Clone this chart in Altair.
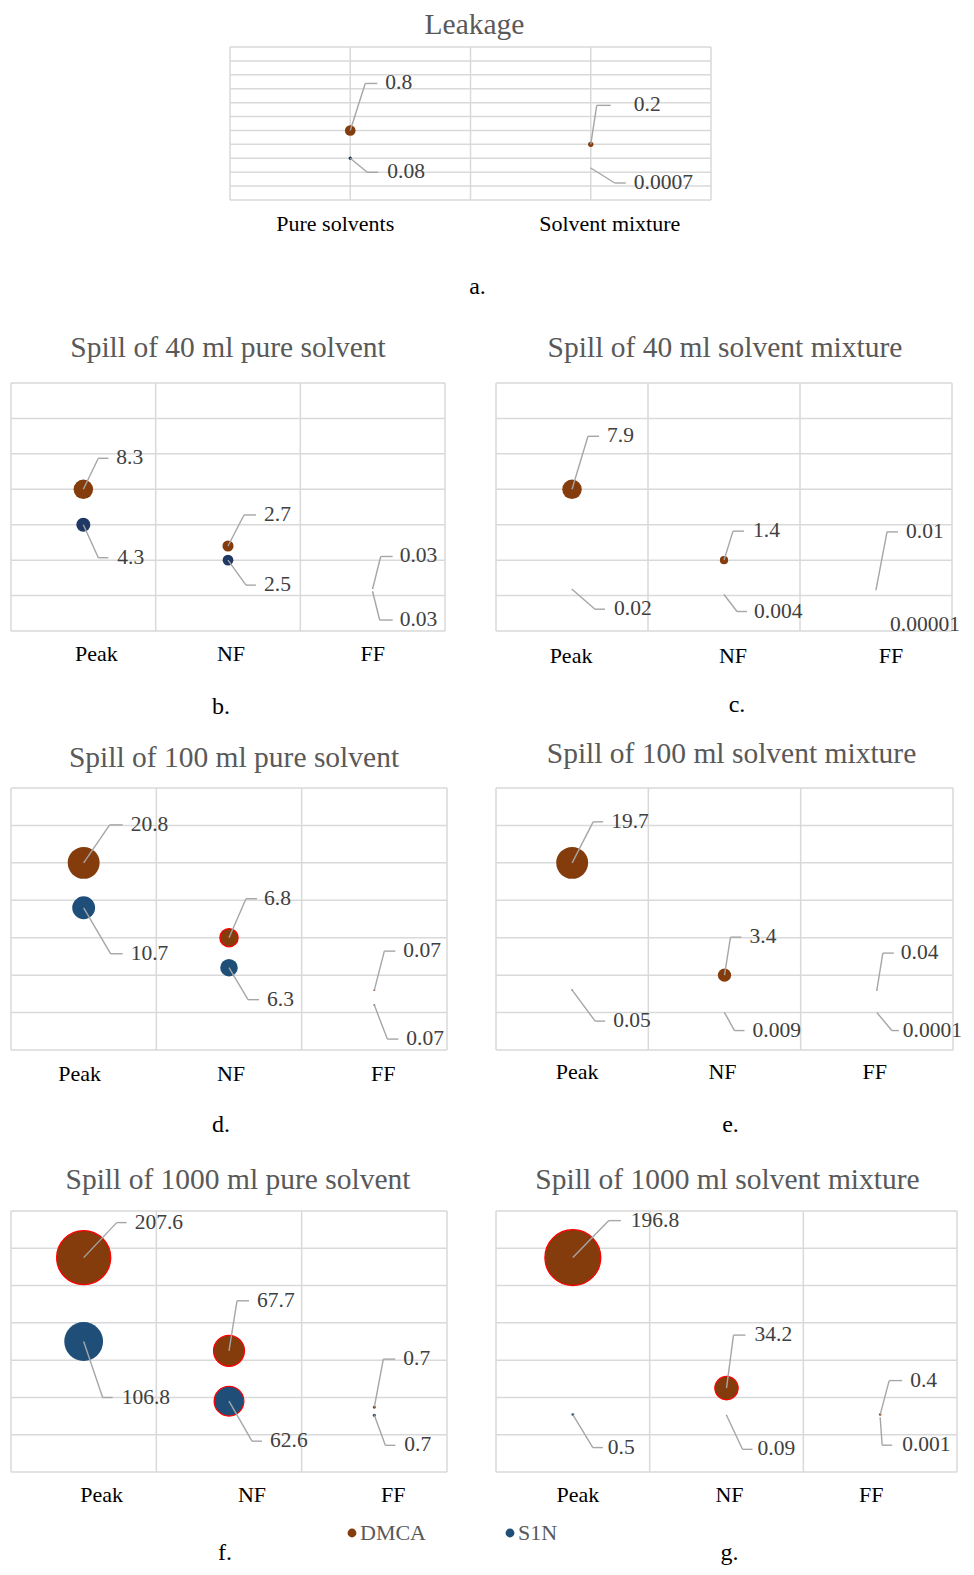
import math
import numpy as np
import pandas as pd
import altair as alt

FONT = "Liberation Serif"
SERIES = ["DMCA", "S1N"]
BROWN = "#843C0C"
BLUE = "#1F4E79"
NAVY = "#203864"

# ---------------- data ----------------
LEAK_CATS = ["Pure solvents", "Solvent mixture"]
LEAK_X = [1, 3]
LEAK_DMCA = [0.8, 0.2]
LEAK_S1N = [0.08, 0.0007]
LEAK_DMCA_Y = [5, 4]
LEAK_S1N_Y = [3, 2.3]

ZONES = ["Peak", "NF", "FF"]
ZONE_X = [0.5, 1.5, 2.5]

B_DMCA = [8.3, 2.7, 0.03]
B_S1N = [4.3, 2.5, 0.03]
B_DMCA_Y = [4, 2.4, 1.2]
B_S1N_Y = [3, 2.0, 1.1]

C_DMCA = [7.9, 1.4, 0.01]
C_S1N = [0.02, 0.004, 0.00001]
C_DMCA_Y = [4, 2, 1.16]
C_S1N_Y = [1.18, 1.03, 1.0]

D_DMCA = [20.8, 6.8, 0.07]
D_S1N = [10.7, 6.3, 0.07]
D_DMCA_Y = [5, 3, 1.6]
D_S1N_Y = [3.8, 2.2, 1.2]

E_DMCA = [19.7, 3.4, 0.04]
E_S1N = [0.05, 0.009, 0.0001]
E_DMCA_Y = [5, 2, 1.6]
E_S1N_Y = [1.6, 1.0, 1.0]

F_DMCA = [207.6, 67.7, 0.7]
F_S1N = [106.8, 62.6, 0.7]
F_DMCA_Y = [5.75, 3.25, 1.74]
F_S1N_Y = [3.5, 1.9, 1.52]

G_DMCA = [196.8, 34.2, 0.4]
G_S1N = [0.5, 0.09, 0.001]
G_DMCA_Y = [5.75, 2.25, 1.54]
G_S1N_Y = [1.54, 1.52, 1.47]

# ---------------- layout / style (pixel offsets) ----------------
T = True
LAYOUT = {
    "a": dict(vw=436, x0=219, w=481, h=153, xmax=4, ymax=11, maxd=12, blue=NAVY, tgap=22, lpad=24, capy=87,
              tdx=4, cdx=7, ldx=[-15, 19], outline=[],
              lab={"DMCA": [(15, -47, 27, 35, T), (6, -39, 20, 43, T)],
                   "S1N": [(17, 14, 28, 37, T), (24, 15, 35, 43, T)]}),
    "b": dict(w=434, h=248, xmax=3, ymax=7, maxd=22, blue=NAVY, tgap=35, lpad=23, capy=76,
              tdx=0, cdx=-7, ldx=[13, 3, 0], outline=[],
              lab={"DMCA": [(15, -31, 25, 33, T), (16, -31, 28, 36, T), (8, -32, 20, 27, T)],
                   "S1N": [(15, 33, 25, 34, T), (18, 25, 28, 36, T), (7, 28, 20, 27, T)]}),
    "c": dict(w=456, h=248, xmax=3, ymax=7, maxd=22, blue=BLUE, tgap=35, lpad=25, capy=74,
              tdx=1, cdx=13, ldx=[-1, 9, 15], outline=[],
              lab={"DMCA": [(16, -53, 27, 35, T), (9, -29, 20, 29, T), (11, -58, 22, 30, T)],
                   "S1N": [(23, 20, 33, 42, T), (13, 17, 23, 30, T), (0, 29, 0, 14, False)]}),
    "d": dict(w=436, h=262, xmax=3, ymax=7, maxd=36, blue=BLUE, tgap=30, lpad=24, capy=75,
              tdx=5, cdx=-8, ldx=[-4, 2, 9], outline=[("DMCA", 1)],
              lab={"DMCA": [(26, -38, 39, 47, T), (17, -39, 28, 35, T), (10, -39, 21, 29, T)],
                   "S1N": [(27, 46, 39, 47, T), (19, 32, 30, 38, T), (13, 34, 24, 32, T)]}),
    "e": dict(w=457, h=262, xmax=3, ymax=7, maxd=36, blue=BLUE, tgap=34, lpad=22, capy=75,
              tdx=7, cdx=6, ldx=[5, -2, -2], outline=[],
              lab={"DMCA": [(21, -41, 31, 39, T), (6, -38, 17, 25, T), (6, -37, 17, 24, T)],
                   "S1N": [(23, 31, 33, 41, T), (10, 18, 20, 28, T), (15, 18, 22, 26, T)]}),
    "f": dict(w=436, h=261, xmax=3, ymax=7, maxd=61, blue=BLUE, tgap=31, lpad=23, capy=81,
              tdx=9, cdx=-4, ldx=[18, 23, 19], outline=[("DMCA", 0), ("DMCA", 1), ("S1N", 1)],
              lab={"DMCA": [(33, -35, 43, 51, T), (8, -50, 20, 28, T), (9, -48, 21, 29, T)],
                   "S1N": [(19, 56, 29, 38, T), (23, 40, 33, 41, T), (11, 30, 21, 30, T)]}),
    "g": dict(w=461, h=261, xmax=3, ymax=7, maxd=63, blue=BLUE, tgap=31, lpad=23, capy=81,
              tdx=1, cdx=3, ldx=[5, 3, -9], outline=[("DMCA", 0), ("DMCA", 1)],
              lab={"DMCA": [(36, -37, 48, 58, T), (7, -53, 19, 28, T), (9, -34, 22, 30, T)],
                   "S1N": [(20, 33, 30, 35, T), (16, 34, 26, 31, T), (2, 28, 12, 22, T)]}),
}
TITLE_SIZE = 29.5
LABEL_SIZE = 21.5
AXIS_SIZE = 22
CAPTION_SIZE = 24


def fmt(v):
    return np.format_float_positional(v, trim="-")


def make_panel(title, cats, xs, dmca, s1n, dmca_y, s1n_y, caption, L):
    W, H, XM, YM = L["w"], L["h"], L["xmax"], L["ymax"]
    VW, X0 = L.get("vw", W), L.get("x0", 0)
    kx, ky = XM / W, YM / H
    rows, segs, texts = [], [], []
    for s, vals, ys in (("DMCA", dmca, dmca_y), ("S1N", s1n, s1n_y)):
        for i, (c, x, v, y) in enumerate(zip(cats, xs, vals, ys)):
            rows.append(dict(series=s, cat=c, x=x, y=y, v=v, outline=(s, i) in L["outline"]))
            ex, ey, hx, tx, line = L["lab"][s][i]
            yl = y - ey * ky
            if line:
                segs.append(dict(x=x, y=y, x2=x + ex * kx, y2=yl))
                segs.append(dict(x=x + ex * kx, y=yl, x2=x + hx * kx, y2=yl))
            texts.append(dict(x=x + tx * kx, y=yl, t=fmt(v)))
    grid = [dict(x=g, x2=g, y=0, y2=YM) for g in range(XM + 1)] + \
           [dict(x=0, x2=XM, y=g, y2=g) for g in range(YM + 1)]

    xsc = alt.Scale(domain=[0, XM], range=[X0, X0 + W], nice=False, zero=False)
    ysc = alt.Scale(domain=[0, YM], nice=False, zero=False)
    X = lambda f="x:Q": alt.X(f, scale=xsc, axis=None)
    Y = lambda f="y:Q": alt.Y(f, scale=ysc, axis=None)

    g_layer = alt.Chart(pd.DataFrame(grid)).mark_rule(color="#D9D9D9", strokeWidth=1.5).encode(
        x=X(), x2="x2:Q", y=Y(), y2="y2:Q")

    vmax = max(dmca + s1n)
    b_layer = alt.Chart(pd.DataFrame(rows)).mark_circle(opacity=1, stroke="#FF0000").encode(
        x=X(), y=Y(),
        size=alt.Size("v:Q", scale=alt.Scale(type="linear", zero=True, domain=[0, vmax],
                                             range=[0, math.pi * L["maxd"] ** 2 / 4]), legend=None),
        color=alt.Color("series:N", scale=alt.Scale(domain=SERIES, range=[BROWN, L["blue"]]), legend=None),
        strokeWidth=alt.condition("datum.outline", alt.value(1.3), alt.value(0)),
    )
    l_layer = alt.Chart(pd.DataFrame(segs)).mark_rule(color="#A6A6A6", strokeWidth=1.4).encode(
        x=X(), x2="x2:Q", y=Y(), y2="y2:Q")
    t_layer = alt.Chart(pd.DataFrame(texts)).mark_text(
        align="left", baseline="middle", font=FONT, fontSize=LABEL_SIZE, color="#404040").encode(
        x=X(), y=Y(), text="t:N")

    title_df = pd.DataFrame([dict(x=XM / 2 + L["tdx"] * kx, y=YM + L["tgap"] * ky, t=title)])
    cat_df = pd.DataFrame([dict(x=x + d * kx, y=-L["lpad"] * ky, t=c)
                           for x, c, d in zip(xs, cats, L["ldx"])])
    cap_df = pd.DataFrame([dict(x=XM / 2 + L["cdx"] * kx, y=-L["capy"] * ky, t=caption)])
    ttl = alt.Chart(title_df).mark_text(align="center", baseline="middle", font=FONT,
                                        fontSize=TITLE_SIZE, color="#595959").encode(x=X(), y=Y(), text="t:N")
    cat = alt.Chart(cat_df).mark_text(align="center", baseline="middle", font=FONT,
                                      fontSize=AXIS_SIZE, color="#000000").encode(x=X(), y=Y(), text="t:N")
    cap = alt.Chart(cap_df).mark_text(align="center", baseline="middle", font=FONT,
                                      fontSize=CAPTION_SIZE, color="#000000").encode(x=X(), y=Y(), text="t:N")

    return alt.layer(g_layer, b_layer, l_layer, t_layer, ttl, cat, cap).properties(width=VW, height=H)


def spacer(w, h):
    return alt.Chart(pd.DataFrame({"a": [0.5]})).mark_circle(size=0, opacity=0).encode(
        x=alt.X("a:Q", axis=None, scale=alt.Scale(domain=[0, 1])),
        y=alt.Y("a:Q", axis=None, scale=alt.Scale(domain=[0, 1]))).properties(width=w, height=h)


pa = make_panel("Leakage", LEAK_CATS, LEAK_X, LEAK_DMCA, LEAK_S1N, LEAK_DMCA_Y, LEAK_S1N_Y, "a.", LAYOUT["a"])
pb = make_panel("Spill of 40 ml pure solvent", ZONES, ZONE_X, B_DMCA, B_S1N, B_DMCA_Y, B_S1N_Y, "b.", LAYOUT["b"])
pc = make_panel("Spill of 40 ml solvent mixture", ZONES, ZONE_X, C_DMCA, C_S1N, C_DMCA_Y, C_S1N_Y, "c.", LAYOUT["c"])
pd_ = make_panel("Spill of 100 ml pure solvent", ZONES, ZONE_X, D_DMCA, D_S1N, D_DMCA_Y, D_S1N_Y, "d.", LAYOUT["d"])
pe = make_panel("Spill of 100 ml solvent mixture", ZONES, ZONE_X, E_DMCA, E_S1N, E_DMCA_Y, E_S1N_Y, "e.", LAYOUT["e"])
pf = make_panel("Spill of 1000 ml pure solvent", ZONES, ZONE_X, F_DMCA, F_S1N, F_DMCA_Y, F_S1N_Y, "f.", LAYOUT["f"])
pg = make_panel("Spill of 1000 ml solvent mixture", ZONES, ZONE_X, G_DMCA, G_S1N, G_DMCA_Y, G_S1N_Y, "g.", LAYOUT["g"])

leg_df = pd.DataFrame({"series": SERIES})
leg_x = alt.X("series:N", scale=alt.Scale(type="point", domain=SERIES, range=[341, 499], padding=0), axis=None)
leg_pts = alt.Chart(leg_df).mark_circle(size=78, opacity=1).encode(
    x=leg_x, color=alt.Color("series:N", scale=alt.Scale(domain=SERIES, range=[BROWN, BLUE]), legend=None))
leg_txt = alt.Chart(leg_df).mark_text(align="left", baseline="middle", dx=8, font=FONT, fontSize=22,
                                       color="#595959").encode(x=leg_x, text="series:N")
legend = alt.layer(leg_pts, leg_txt).properties(width=436, height=20)

COLGAP = 49
cells = [
    pa, spacer(1, 153),
    spacer(1, 183), spacer(1, 183),
    pb, pc,
    spacer(1, 157), spacer(1, 157),
    pd_, pe,
    spacer(1, 161), spacer(1, 161),
    pf, pg,
    spacer(1, 51), spacer(1, 51),
    legend, spacer(1, 20),
]

chart = alt.concat(*cells, columns=2, align="none", bounds="flush",
                   spacing={"row": 0, "column": COLGAP}).resolve_scale(size="independent", color="independent")
chart = chart.properties(padding={"left": 2, "top": 2, "right": 0, "bottom": 0}).configure_view(stroke=None)

chart.save("out.html", embed_options={"renderer": "svg", "actions": False})
